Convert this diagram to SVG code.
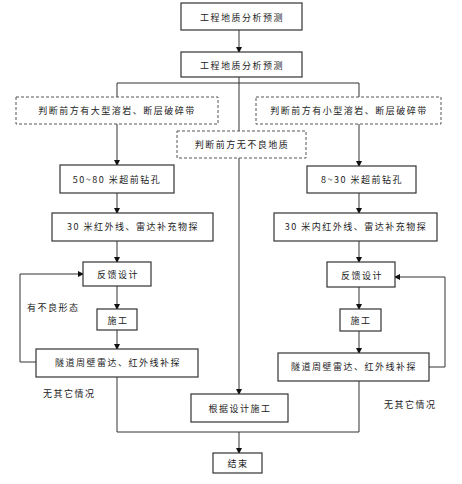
<svg xmlns="http://www.w3.org/2000/svg" width="462" height="484" viewBox="0 0 462 484">
<defs>
<marker id="ah" markerWidth="6" markerHeight="6" refX="5" refY="3" orient="auto" markerUnits="userSpaceOnUse">
<path d="M0,0 L6,3 L0,6 Z" fill="#111"/>
</marker>
<style>
.box{fill:#fff;stroke:#333;stroke-width:1.2}
.dbox{fill:#fff;stroke:#555;stroke-width:1;stroke-dasharray:3,2}
.ln{fill:none;stroke:#333;stroke-width:1}
.ar{fill:none;stroke:#333;stroke-width:1;marker-end:url(#ah)}
text{font-family:"Noto Sans CJK SC","Liberation Sans",sans-serif;font-size:9px;fill:#222;letter-spacing:1.5px;text-anchor:middle;dominant-baseline:central}
.lab{text-anchor:start}
</style>
</defs>
<rect width="462" height="484" fill="#fff"/>
<g id="connectors">
<path class="ar" d="M239,30 V52"/>
<path class="ln" d="M239,77 V131"/>
<path class="ln" d="M117,83 H359"/>
<path class="ln" d="M117,83 V97"/>
<path class="ln" d="M359,83 V97"/>
<path class="ar" d="M117,124 V165"/>
<path class="ar" d="M359,124 V166"/>
<path class="ar" d="M239,158 V394"/>
<path class="ar" d="M117,193 V213"/>
<path class="ar" d="M359,193 V213"/>
<path class="ar" d="M117,241 V262"/>
<path class="ar" d="M359,241 V262"/>
<path class="ar" d="M117,286 V309"/>
<path class="ar" d="M359,287 V309"/>
<path class="ar" d="M117,330 V349"/>
<path class="ar" d="M359,331 V353"/>
<path class="ar" d="M36,362 H20 V274 H83"/>
<path class="ar" d="M429,367 H445 V277 H395"/>
<path class="ln" d="M117,377 V432 H359"/>
<path class="ln" d="M359,381 V432"/>
<path class="ar" d="M239,432 V453"/>
</g>
<g id="n1"><rect class="box" x="181" y="3" width="121" height="27"/><text x="242" y="17">工程地质分析预测</text></g>
<g id="n2"><rect class="box" x="181" y="52" width="121" height="25"/><text x="242" y="65">工程地质分析预测</text></g>
<g id="n3"><rect class="dbox" x="16" y="97" width="202" height="27"/><text x="117" y="110">判断前方有大型溶岩、断层破碎带</text></g>
<g id="n4"><rect class="dbox" x="256" y="97" width="185" height="27"/><text x="349" y="110">判断前方有小型溶岩、断层破碎带</text></g>
<g id="n5"><rect class="dbox" x="177" y="131" width="129" height="27"/><text x="242" y="144">判断前方无不良地质</text></g>
<g id="n6"><rect class="box" x="60" y="165" width="114" height="28"/><text x="117" y="179">50~80 米超前钻孔</text></g>
<g id="n7"><rect class="box" x="307" y="166" width="109" height="27"/><text x="362" y="179">8~30 米超前钻孔</text></g>
<g id="n8"><rect class="box" x="52" y="213" width="161" height="28"/><text x="133" y="226">30 米红外线、雷达补充物探</text></g>
<g id="n9"><rect class="box" x="274" y="213" width="163" height="28"/><text x="356" y="226">30 米内红外线、雷达补充物探</text></g>
<g id="n10"><rect class="box" x="83" y="262" width="68" height="24"/><text x="118" y="274">反馈设计</text></g>
<g id="n11"><rect class="box" x="327" y="262" width="68" height="25"/><text x="362" y="275">反馈设计</text></g>
<g id="n12"><rect class="box" x="97" y="309" width="40" height="21"/><text x="118" y="320">施工</text></g>
<g id="n13"><rect class="box" x="340" y="309" width="41" height="22"/><text x="361" y="320">施工</text></g>
<g id="n14"><rect class="box" x="36" y="349" width="162" height="28"/><text x="118" y="362">隧道周壁雷达、红外线补探</text></g>
<g id="n15"><rect class="box" x="278" y="353" width="151" height="28"/><text x="354" y="366">隧道周壁雷达、红外线补探</text></g>
<g id="n16"><rect class="box" x="191" y="394" width="97" height="28"/><text x="240" y="408">根据设计施工</text></g>
<g id="n17"><rect class="box" x="213" y="453" width="49" height="20"/><text x="238" y="463">结束</text></g>
<g id="labels">
<text class="lab" x="27" y="307">有不良形态</text>
<text class="lab" x="43" y="393">无其它情况</text>
<text class="lab" x="384" y="404">无其它情况</text>
</g>
</svg>
